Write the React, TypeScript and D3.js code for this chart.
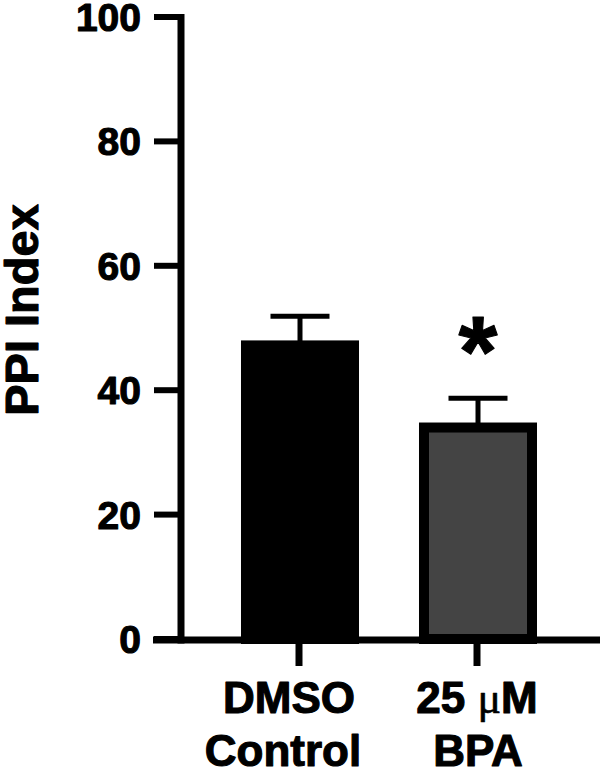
import React from "react";
import * as d3 from "d3";

const categories = ["DMSO Control", "25 µM BPA"];
const labelLine1 = ["DMSO", "25 "];
const labelUnit = ["", "μ"];
const labelLine1b = ["", "M"];
const labelLine2 = ["Control", "BPA"];
const means = [47.2, 34.0];
const sems = [4.7, 4.7];
const fills = ["#000000", "#444444"];
const yTicks = [0, 20, 40, 60, 80, 100];
const significance = ["", "*"];

const W = 600;
const H = 771;
const FONT = "'Liberation Sans', Arial, sans-serif";
const TEXT_STROKE = 1.1;

export default function App() {
  const y = d3.scaleLinear().domain([0, 100]).range([639, 17]);
  const x = d3
    .scaleBand<string>()
    .domain(categories)
    .range([211, 567])
    .paddingInner(0.337)
    .paddingOuter(0.1685);
  const bw = x.bandwidth();
  const axisX = 181;
  const axisY = 640;
  const stroke = 10;

  const textProps = {
    fontFamily: FONT,
    fontWeight: "bold" as const,
    fill: "#000",
    stroke: "#000",
    strokeWidth: TEXT_STROKE,
    strokeLinejoin: "round" as const,
  };

  return (
    <svg
      width={W}
      height={H}
      viewBox={`0 0 ${W} ${H}`}
      style={{ position: "absolute", left: 0, top: 0, background: "#fff" }}
    >
      <rect x={0} y={0} width={W} height={H} fill="#fff" />
      {/* bars */}
      {categories.map((c, i) => {
        const x0 = (x(c) ?? 0) + stroke / 2;
        const yTop = y(means[i]);
        const cx = (x(c) ?? 0) + bw / 2;
        const yErr = y(means[i] + sems[i]);
        return (
          <g key={c}>
            <line x1={cx} x2={cx} y1={yTop} y2={yErr} stroke="#000" strokeWidth={5} />
            <line x1={cx - 29.5} x2={cx + 29.5} y1={yErr} y2={yErr} stroke="#000" strokeWidth={5} />
            <rect
              x={x0}
              y={yTop}
              width={bw - stroke}
              height={y(0) - yTop}
              fill={fills[i]}
              stroke="#000"
              strokeWidth={stroke}
            />
            {significance[i] && (
              <text x={cx} y={yErr - 12} textAnchor="middle" {...textProps} fontSize={100}>
                {significance[i]}
              </text>
            )}
          </g>
        );
      })}
      {/* y axis */}
      <line x1={axisX} x2={axisX} y1={y(100) - 3} y2={axisY + 3.5} stroke="#000" strokeWidth={7} />
      {yTicks.map((t) => (
        <g key={t}>
          <line x1={154} x2={axisX} y1={y(t)} y2={y(t)} stroke="#000" strokeWidth={6} />
          <text x={141} y={y(t)} dy="0.36em" textAnchor="end" {...textProps} fontSize={39}>
            {t}
          </text>
        </g>
      ))}
      {/* x axis */}
      <line x1={153} x2={W} y1={axisY} y2={axisY} stroke="#000" strokeWidth={7} />
      {categories.map((c, i) => {
        const cx = (x(c) ?? 0) + bw / 2;
        const off1 = i === 0 ? -11 : -1;
        const off2 = i === 0 ? -17 : 0;
        return (
          <g key={c + "t"}>
            <line x1={cx - 1} x2={cx - 1} y1={axisY} y2={666} stroke="#000" strokeWidth={7} />
            <text x={cx + off1} y={713} textAnchor="middle" {...textProps} fontSize={44}>
              {labelLine1[i]}
              {labelUnit[i] && (
                <tspan
                  fontFamily="'Liberation Serif', 'Times New Roman', serif"
                  fontWeight="normal"
                  strokeWidth={0.6}
                >
                  {labelUnit[i]}
                </tspan>
              )}
              {labelLine1b[i]}
            </text>
            <text x={cx + off2} y={766} textAnchor="middle" {...textProps} fontSize={44}>
              {labelLine2[i]}
            </text>
          </g>
        );
      })}
      {/* y title */}
      <text
        transform={`translate(38, 310) rotate(-90)`}
        textAnchor="middle"
        {...textProps}
        fontSize={47}
      >
        PPI Index
      </text>
    </svg>
  );
}
